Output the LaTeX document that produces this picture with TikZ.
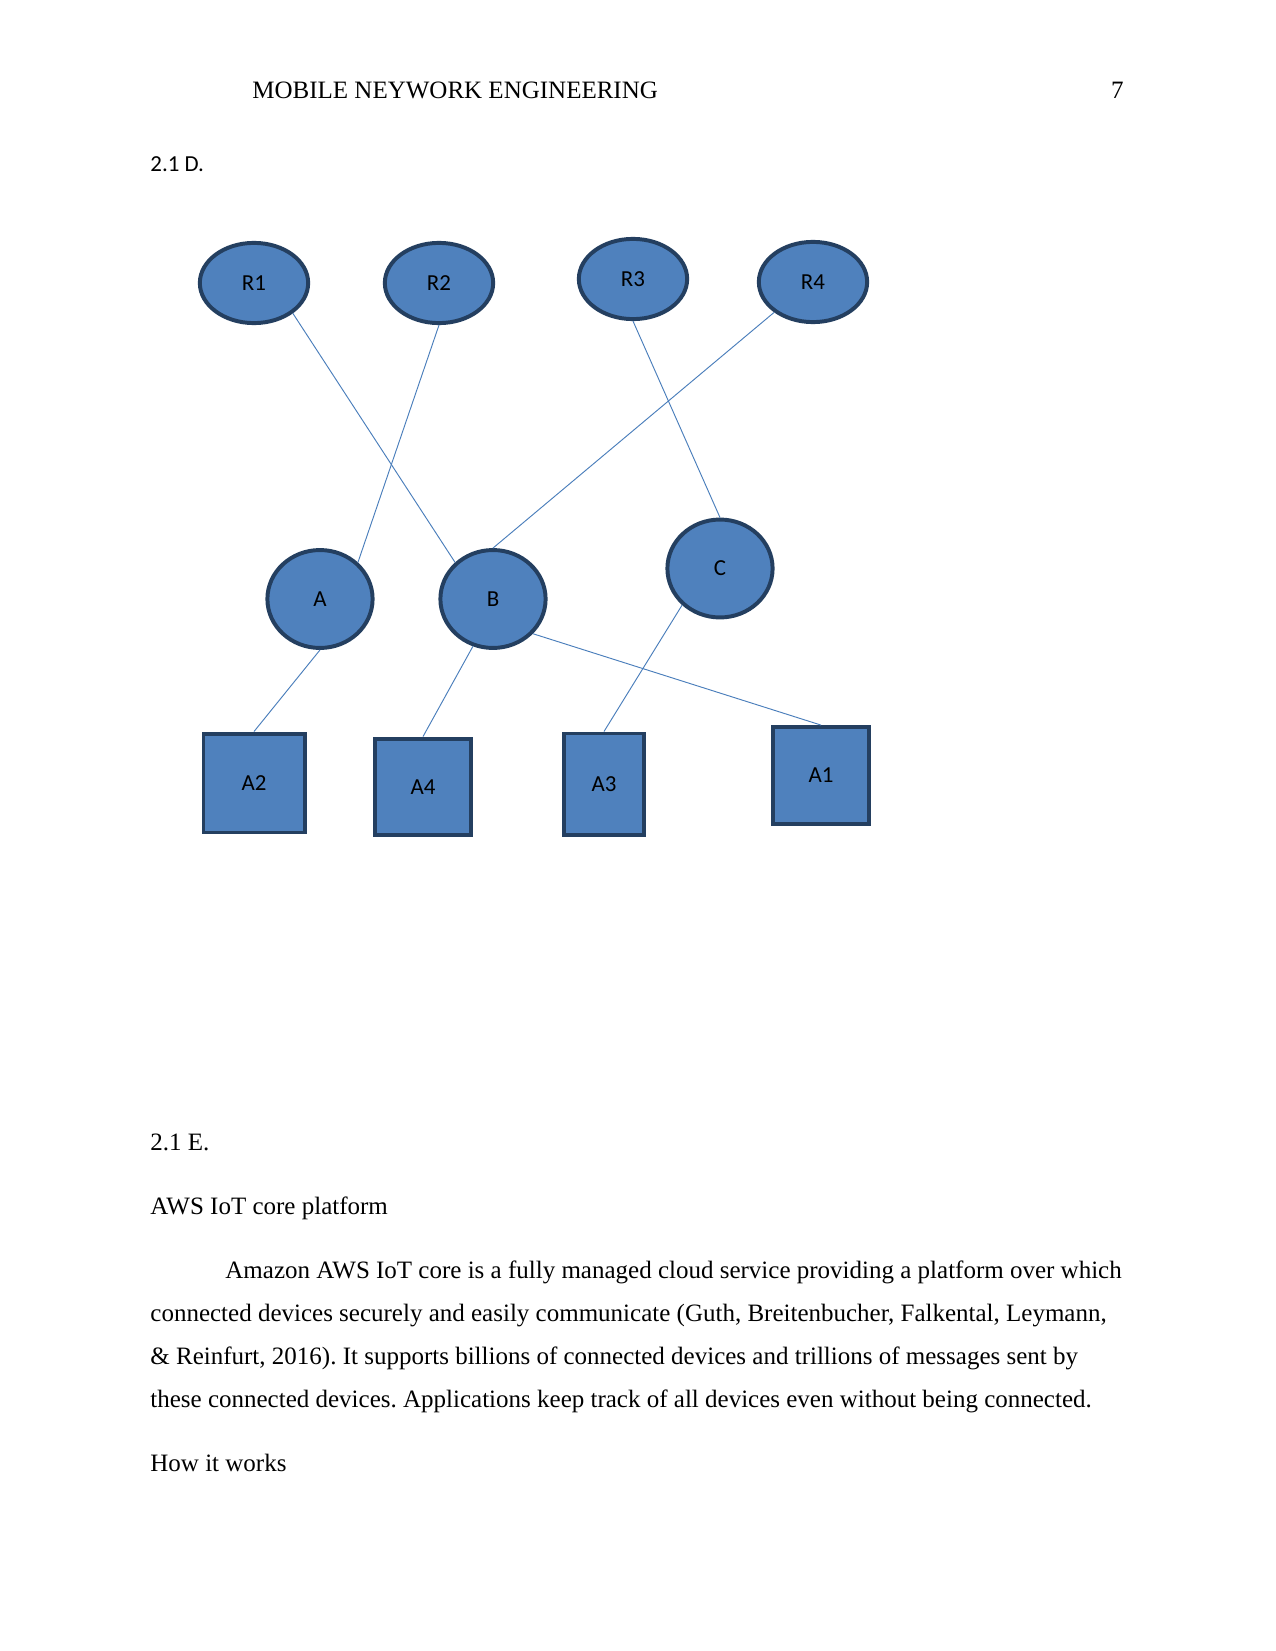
\documentclass[tikz,border=0pt]{standalone}
\usepackage{fontspec}
\setmainfont{Liberation Serif}
\newfontfamily\calibri{Carlito}
\usepackage{tikz}
\usetikzlibrary{shapes.geometric}
\usepackage{xcolor}
\definecolor{shapefill}{HTML}{4F81BD}
\definecolor{shapeedge}{HTML}{243F60}
\definecolor{linkblue}{HTML}{4A7EBB}
\tikzset{
  oval/.style={ellipse, draw=shapeedge, line width=1.9pt, fill=shapefill, inner sep=0pt, font=\calibri\fontsize{11}{13}\selectfont},
  dev/.style={rectangle, draw=shapeedge, line width=1.9pt, fill=shapefill, inner sep=0pt, font=\calibri\fontsize{11}{13}\selectfont},
  link/.style={draw=linkblue, line width=0.45pt},
  bodytxt/.style={anchor=base west, inner sep=0pt, font=\fontsize{12}{14}\selectfont}
}
\frenchspacing
\begin{document}
\begin{tikzpicture}[x=0.48pt,y=-0.48pt]
  \useasboundingbox[fill=white] (0,0) rectangle (1275,1651);
  % page head
  \node[bodytxt] (head) at (252,99) {MOBILE NEYWORK ENGINEERING};
  \node[bodytxt, anchor=base east] (pageno) at (1124,99) {7};
  \node[bodytxt, font=\calibri\fontsize{11}{13}\selectfont] (secD) at (150,172) {2.1 D.};
  % routers (top row)
  \foreach \n/\x/\y in {R1/254/283,R2/439/283,R3/633/279,R4/813/282}
    \node[oval, minimum width=52pt, minimum height=38.5pt] (\n) at (\x,\y) {\n};
  % middle row
  \foreach \n/\x/\y in {A/320/599,B/493/599,C/720/568.5}
    \node[oval, minimum width=50.5pt, minimum height=47pt] (\n) at (\x,\y) {\n};
  % devices (bottom row)
  \node[dev, minimum width=48.5pt, minimum height=47.5pt] (A2) at (254,783) {A2};
  \node[dev, minimum width=46pt, minimum height=46.5pt] (A4) at (423,787) {A4};
  \node[dev, minimum width=38pt, minimum height=48.5pt] (A3) at (604,784) {A3};
  \node[dev, minimum width=46pt, minimum height=46.5pt] (A1) at (821,775.5) {A1};
  % connectors
  \foreach \a/\b in {R1.-38/B.136, R2.south/A.44, R3.south/C.north, R4.-142/B.north,
                     A.south/A2.north, B.-113/A4.north, C.-136/A3.north, B.-41/A1.north}
    \draw[link] (\a) -- (\b);
  % text below
  \node[bodytxt] (secE) at (150,1150) {2.1 E.};
  \node[bodytxt] (title) at (150,1214) {AWS IoT core platform};
  \node[bodytxt] (ln1) at (225,1278) {Amazon AWS IoT core is a fully managed cloud service providing a platform over which};
  \node[bodytxt] (ln2) at (150,1321) {connected devices securely and easily communicate (Guth, Breitenbucher, Falkental, Leymann,};
  \node[bodytxt] (ln3) at (150,1364.5) {\& Reinfurt, 2016). It supports billions of connected devices and trillions of messages sent by};
  \node[bodytxt] (ln4) at (150,1407.5) {these connected devices. Applications keep track of all devices even without being connected.};
  \node[bodytxt] (how) at (150,1471) {How it works};
\end{tikzpicture}
\end{document}
